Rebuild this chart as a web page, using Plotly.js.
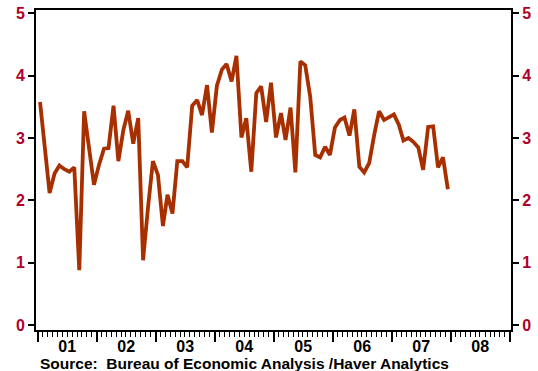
<!DOCTYPE html>
<html>
<head>
<meta charset="utf-8">
<script src="https://cdn.plot.ly/plotly-3.0.1.min.js"></script>
<style>
html,body{margin:0;padding:0;background:#fff;}
#chart{width:538px;height:371px;}
</style>
</head>
<body>
<div id="chart"></div>
<script>
// Monthly series, Jan 2001 – Dec 2007
const startYear = 2001;
const yearTickFormat = "%y"; // labels 01 … 08
const values = [
  3.58, 2.87, 2.12, 2.43, 2.56, 2.50, 2.46, 2.53, 0.88, 3.43, 2.84, 2.25,
  2.57, 2.83, 2.84, 3.52, 2.63, 3.13, 3.44, 2.91, 3.32, 1.04, 1.90, 2.63,
  2.41, 1.59, 2.09, 1.79, 2.63, 2.63, 2.53, 3.52, 3.61, 3.37, 3.85, 3.09,
  3.84, 4.10, 4.19, 3.91, 4.32, 3.01, 3.32, 2.46, 3.72, 3.83, 3.26, 3.89,
  3.01, 3.40, 2.97, 3.49, 2.45, 4.23, 4.17, 3.66, 2.73, 2.69, 2.86, 2.73,
  3.17, 3.29, 3.33, 3.04, 3.46, 2.54, 2.45, 2.60, 3.05, 3.43, 3.29, 3.34,
  3.38, 3.21, 2.96, 3.00, 2.94, 2.85, 2.49, 3.18, 3.19, 2.53, 2.69, 2.18
];
const dates = values.map((v, i) => {
  const y = startYear + Math.floor(i / 12);
  const m = (i % 12) + 1;
  return y + "-" + String(m).padStart(2, "0") + "-15";
});

const lineColor = "#a83000";
const labelRed = "#b0002a";
const fontFam = "Liberation Sans, Arial, sans-serif";

const traces = [
  {x: dates, y: values, type: "scatter", mode: "lines",
   line: {color: lineColor, width: 3.8}, hoverinfo: "skip", showlegend: false},
  {x: dates, y: values, type: "scatter", mode: "lines", yaxis: "y2",
   line: {color: lineColor, width: 0}, opacity: 0, hoverinfo: "skip", showlegend: false}
];

const yCommon = {
  range: [-0.08, 5.056], dtick: 1, tick0: 0,
  ticks: "outside", ticklen: 6, tickwidth: 2, tickcolor: "#000",
  showline: true, linewidth: 2, linecolor: "#000",
  showgrid: false, zeroline: false,
  tickfont: {family: fontFam, size: 16, color: labelRed, weight: "bold"}
};

const layout = {
  width: 538, height: 371,
  margin: {l: 36, r: 27, t: 10, b: 41},
  paper_bgcolor: "#fff", plot_bgcolor: "#fff",
  showlegend: false,
  xaxis: {
    type: "date", range: ["2000-12-21", "2009-01-09"],
    tick0: "2001-01-01", dtick: "M12", ticklabelmode: "period",
    tickformat: yearTickFormat,
    ticks: "outside", ticklen: 10, tickwidth: 2, tickcolor: "#000",
    ticklabelstandoff: -9,
    minor: {dtick: "M1", tick0: "2001-01-01", ticks: "outside", ticklen: 5, tickwidth: 1, tickcolor: "#000", showgrid: false},
    showline: true, linewidth: 2, linecolor: "#000", mirror: true,
    showgrid: false, zeroline: false,
    tickfont: {family: fontFam, size: 16, color: "#000", weight: "bold"}
  },
  yaxis: Object.assign({side: "left"}, yCommon),
  yaxis2: Object.assign({side: "right", overlaying: "y"}, yCommon),
  annotations: [{
    text: "Source:  Bureau of Economic Analysis /Haver Analytics",
    xref: "paper", yref: "paper", x: 0.004, y: -0.072,
    xanchor: "left", yanchor: "top", showarrow: false,
    font: {family: fontFam, size: 15.5, color: "#000", weight: "bold"}
  }]
};

Plotly.newPlot("chart", traces, layout, {staticPlot: true, displayModeBar: false});
</script>
</body>
</html>
